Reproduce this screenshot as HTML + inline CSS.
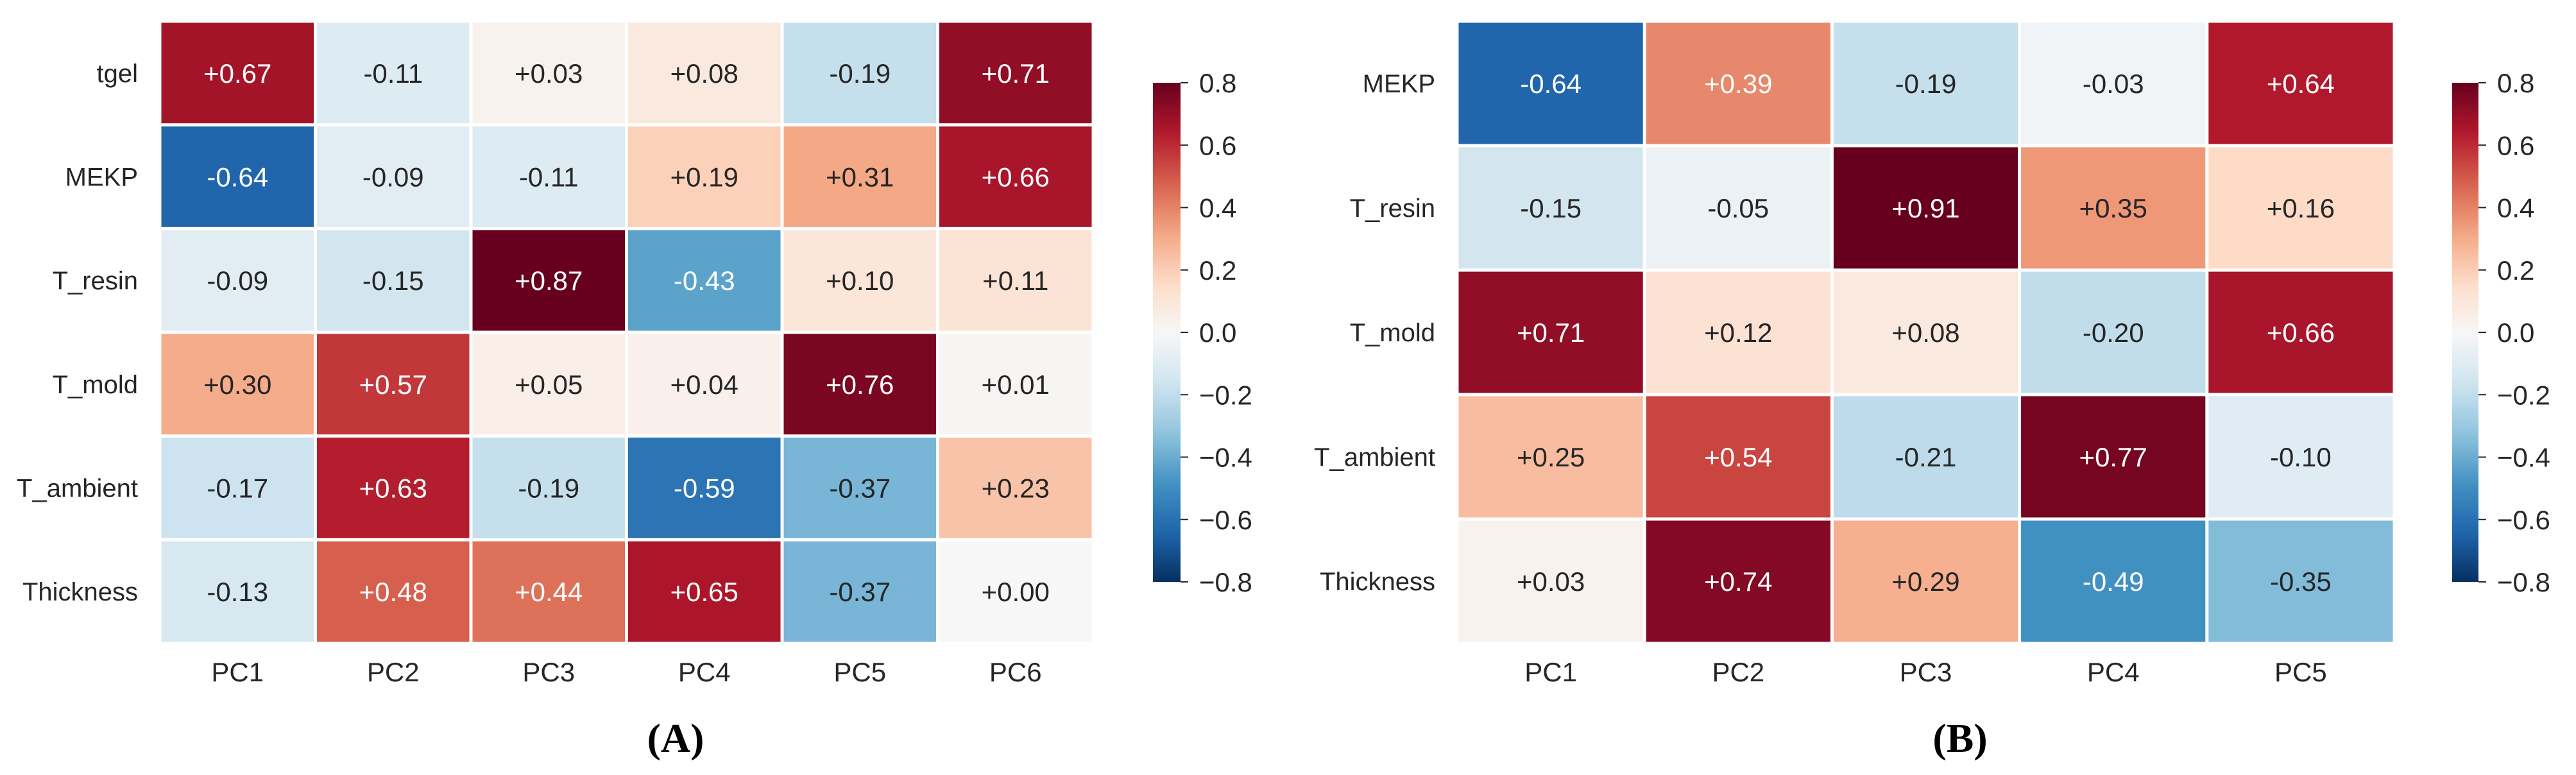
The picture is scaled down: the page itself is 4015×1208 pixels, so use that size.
<!DOCTYPE html>
<html><head><meta charset="utf-8">
<style>
html,body{margin:0;padding:0;background:#fff;}
svg{display:block;}
text{font-family:"Liberation Sans",Arial,sans-serif;}
</style></head>
<body>
<svg id="fig" width="4015" height="1208" xmlns="http://www.w3.org/2000/svg"></svg>
<script>
const rowsA = ["tgel","MEKP","T_resin","T_mold","T_ambient","Thickness"];
const colsA = ["PC1","PC2","PC3","PC4","PC5","PC6"];
const valsA = [
 [0.67,-0.11,0.03,0.08,-0.19,0.71],
 [-0.64,-0.09,-0.11,0.19,0.31,0.66],
 [-0.09,-0.15,0.87,-0.43,0.10,0.11],
 [0.30,0.57,0.05,0.04,0.76,0.01],
 [-0.17,0.63,-0.19,-0.59,-0.37,0.23],
 [-0.13,0.48,0.44,0.65,-0.37,0.00]
];
const rowsB = ["MEKP","T_resin","T_mold","T_ambient","Thickness"];
const colsB = ["PC1","PC2","PC3","PC4","PC5"];
const valsB = [
 [-0.64,0.39,-0.19,-0.03,0.64],
 [-0.15,-0.05,0.91,0.35,0.16],
 [0.71,0.12,0.08,-0.20,0.66],
 [0.25,0.54,-0.21,0.77,-0.10],
 [0.03,0.74,0.29,-0.49,-0.35]
];
const cbTicks = [0.8,0.6,0.4,0.2,0.0,-0.2,-0.4,-0.6,-0.8];
const vmin=-0.8, vmax=0.8;

const NS="http://www.w3.org/2000/svg";
const svg=document.getElementById('fig');
// RdBu_r stops
const stops=[[5,48,97],[33,102,172],[67,147,195],[146,197,222],[209,229,240],[247,247,247],[253,219,199],[244,165,130],[214,96,77],[178,24,43],[103,0,31]];
function cmap(v){
  let t=(v-vmin)/(vmax-vmin); t=Math.max(0,Math.min(1,t));
  const p=t*(stops.length-1); const i=Math.min(Math.floor(p),stops.length-2); const f=p-i;
  const a=stops[i],b=stops[i+1];
  return [0,1,2].map(k=>Math.round(a[k]+(b[k]-a[k])*f));
}
function lum(c){const l=c.map(x=>{x/=255;return x<=0.03928?x/12.92:Math.pow((x+0.055)/1.055,2.4);});return 0.2126*l[0]+0.7152*l[1]+0.0722*l[2];}
function mk(tag,attrs,parent){const e=document.createElementNS(NS,tag);for(const k in attrs)e.setAttribute(k,attrs[k]);(parent||svg).appendChild(e);return e;}
function fmt(v){return (v>=0?"+":"-")+Math.abs(v).toFixed(2);}

// gradient
const defs=mk('defs',{});
const grad=mk('linearGradient',{id:'cbg',x1:0,y1:1,x2:0,y2:0},defs);
for(let i=0;i<=32;i++){const t=i/32;const c=cmap(vmin+t*(vmax-vmin));mk('stop',{offset:t,'stop-color':`rgb(${c})`},grad);}

function heat(cfg){
  const g=mk('g',{});
  
  
  const nR=cfg.rows.length,nC=cfg.cols.length;
  const cw=(cfg.x1-cfg.x0)/nC, ch=(cfg.y1-cfg.y0)/nR;
  const xs=j=>cfg.x0+j*cw, ys=i=>cfg.y0+i*ch;
  for(let i=0;i<nR;i++){
    const lt=mk('text',{x:cfg.x0-34,y:ys(i)+ch/2+14,'text-anchor':'end','font-size':40,fill:'#262626'},g);
    lt.textContent=cfg.rows[i];
    
    
    for(let j=0;j<nC;j++){
      const v=cfg.vals[i][j];const c=cmap(v);
      const r=mk('rect',{x:xs(j)+2.5,y:ys(i)+2.5,width:cw-5,height:ch-5,fill:`rgb(${c})`},g);
      
      
      const t=mk('text',{x:xs(j)+cw/2,y:ys(i)+ch/2+15,'text-anchor':'middle','font-size':42,fill:lum(c)<0.408?'#ffffff':'#262626'},g);
      t.textContent=fmt(v);
      
      
    }
  }
  for(let j=0;j<nC;j++){
    const t=mk('text',{x:xs(j)+cw/2,y:cfg.y1+59,'text-anchor':'middle','font-size':42,fill:'#262626'},g);
    t.textContent=cfg.cols[j];
    
    
  }
  // colorbar
  const cb=mk('g',{},g);
  
  
  mk('rect',{x:cfg.cbx,y:129,width:cfg.cbw,height:778,fill:'url(#cbg)'},cb);
  cbTicks.forEach(tv=>{
    const y=129+(vmax-tv)/(vmax-vmin)*778;
    mk('line',{x1:cfg.cbx+cfg.cbw,x2:cfg.cbx+cfg.cbw+12,y1:y,y2:y,stroke:'#262626','stroke-width':2},cb);
    const t=mk('text',{x:cfg.cbx+cfg.cbw+29,y:y+15,'font-size':42,fill:'#262626'},cb);
    t.textContent=(tv<0?"\u2212":"")+Math.abs(tv).toFixed(1);
    
    
  });
  const p=mk('text',{x:cfg.px,y:1172,'text-anchor':'middle','font-size':64,'font-weight':'bold',fill:'#000',style:'font-family:"Liberation Serif",serif'},g);
  p.textContent=cfg.panel;
  
  
}
heat({name:'heatmap-a',rows:rowsA,cols:colsA,vals:valsA,x0:249,x1:1704,y0:33,y1:1003,cbx:1797,cbw:43,px:1053,panel:'(A)'});
heat({name:'heatmap-b',rows:rowsB,cols:colsB,vals:valsB,x0:2271,x1:3732,y0:33,y1:1003,cbx:3822,cbw:41,px:3055,panel:'(B)'});
</script>
</body></html>
